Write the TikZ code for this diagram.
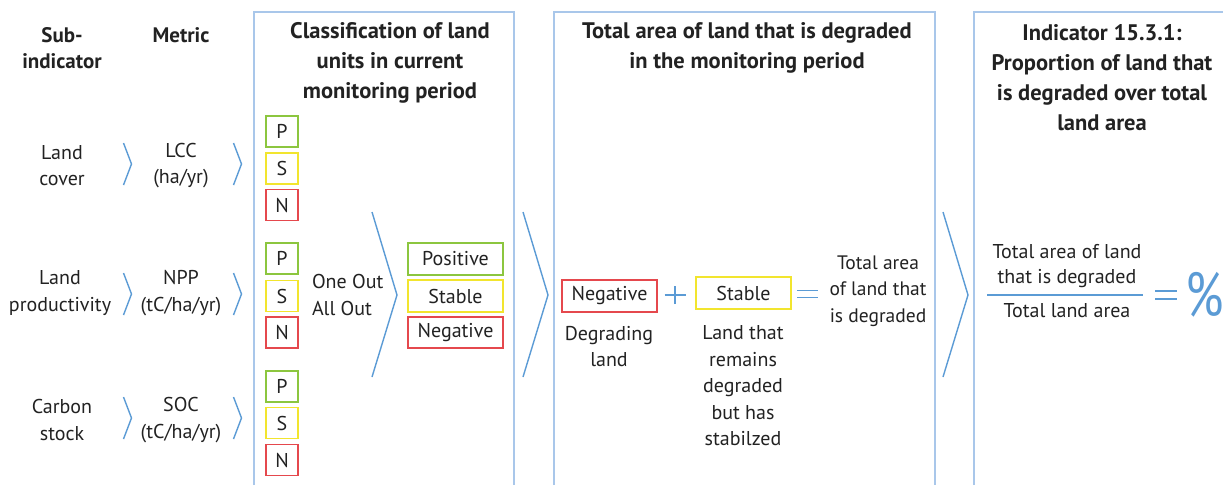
\documentclass[tikz,border=0pt]{standalone}
\usepackage{fontspec}
\setmainfont{PT Sans}
\definecolor{panelc}{HTML}{A9C7EA}
\definecolor{chevc}{HTML}{5B9BD5}
\definecolor{gbox}{HTML}{8CC63F}
\definecolor{ybox}{HTML}{F2E52E}
\definecolor{rbox}{HTML}{E5484D}
\definecolor{txt}{HTML}{222222}
\begin{document}
\begin{tikzpicture}[x=1pt,y=-1pt,
  every node/.style={text=txt,inner sep=0pt,outer sep=0pt},
  body/.style={align=center,font=\fontsize{20}{26.5}\selectfont},
  ttl/.style={align=center,font=\fontsize{22.5}{30}\selectfont\bfseries},
  panel/.style={draw=panelc,line width=1.3pt},
  chev/.style={draw=chevc,line width=1.4pt,line join=miter},
  lbox/.style={draw,line width=1.8pt,minimum width=32pt,minimum height=31pt,font=\fontsize{20}{20}\selectfont},
  wbox/.style={draw,line width=1.8pt,minimum width=95pt,minimum height=31.5pt,font=\fontsize{20}{20}\selectfont},
  bluel/.style={draw=chevc,line width=1.4pt}]
\useasboundingbox (0,0) rectangle (1223,485);
\fill[white] (0,0) rectangle (1223,485);
% panels
\draw[panel] (254,485) -- (254,12) -- (514,12) -- (514,485);
\draw[panel] (554,485) -- (554,12) -- (935,12) -- (935,485);
\draw[panel] (974,485) -- (974,12) -- (1224,12);
% headers
\node[ttl,font=\fontsize{21}{26}\selectfont\bfseries] (hsub) at (62,48) {Sub-\\indicator};
\node[ttl,font=\fontsize{21}{26}\selectfont\bfseries] (hmet) at (181,35) {Metric};
% rows
\node[body] (sub1) at (62,165.5) {Land\\cover};
\node[body] (met1) at (181,165.5) {LCC\\(ha/yr)};
\node[body] (sub2) at (60,293) {Land\\productivity};
\node[body] (met2) at (181,293) {NPP\\(tC/ha/yr)};
\node[body] (sub3) at (62,420) {Carbon\\stock};
\node[body] (met3) at (181,420) {SOC\\(tC/ha/yr)};
% small chevrons
\foreach \yc in {164,294,418}{
  \draw[chev] (123.5,\yc-21) -- (131.5,\yc) -- (123.5,\yc+21);
  \draw[chev] (233.5,\yc-21) -- (241.5,\yc) -- (233.5,\yc+21);
}
% panel 1
\node[ttl] (t1) at (390,63) {Classification of land\\units in current\\monitoring period};
\node[lbox,draw=gbox] (p1) at (282,131.5) {P};
\node[lbox,draw=ybox] (s1) at (282,168.5) {S};
\node[lbox,draw=rbox] (n1) at (282,205) {N};
\node[lbox,draw=gbox] (p2) at (282,258.5) {P};
\node[lbox,draw=ybox] (s2) at (282,296) {S};
\node[lbox,draw=rbox] (n2) at (282,332.5) {N};
\node[lbox,draw=gbox] (p3) at (282,386.5) {P};
\node[lbox,draw=ybox] (s3) at (282,423) {S};
\node[lbox,draw=rbox] (n3) at (282,460) {N};
\node[body,align=left,anchor=west] (oo) at (312,295) {One Out\\All Out};
\draw[chev] (372,212) -- (397,295) -- (372,377);
\node[wbox,draw=gbox] (pos) at (455.5,259) {Positive};
\node[wbox,draw=ybox] (sta) at (455.5,296) {Stable};
\node[wbox,draw=rbox] (neg) at (455.5,332.5) {Negative};
\draw[chev] (523,212) -- (548,295) -- (523,377);
% panel 2
\node[ttl] (t2) at (747,48) {Total area of land that is degraded\\in the monitoring period};
\node[wbox,draw=rbox] (neg2) at (609.5,296) {Negative};
\coordinate (pl) at (675,295);
\draw[bluel] ([xshift=-10.5pt]pl) -- ([xshift=10.5pt]pl);
\draw[bluel] ([yshift=-9pt]pl) -- ([yshift=9pt]pl);
\node[wbox,draw=ybox] (sta2) at (743.5,293) {Stable};
\coordinate (eq1) at (807.5,294);
\draw[bluel] ([xshift=-10.5pt,yshift=-3.5pt]eq1) -- ([xshift=10.5pt,yshift=-3.5pt]eq1);
\draw[bluel] ([xshift=-10.5pt,yshift=3.5pt]eq1) -- ([xshift=10.5pt,yshift=3.5pt]eq1);
\node[body,font=\fontsize{19.5}{26.5}\selectfont] (tot) at (878,291) {Total area\\of land that\\is degraded};
\node[body] (dl) at (609,346.5) {Degrading\\land};
\node[body] (ltr) at (743,386) {Land that\\remains\\degraded\\but has\\stabilzed};
\draw[chev] (943,212) -- (968,295) -- (943,377);
% panel 3
\node[ttl] (t3) at (1102,78) {Indicator 15.3.1:\\Proportion of land that\\is degraded over total\\land area};
\node[body,font=\fontsize{20}{25}\selectfont] (num) at (1067,266) {Total area of land\\that is degraded};
\node[body,font=\fontsize{20}{25}\selectfont] (den) at (1067,311) {Total land area};
\draw[bluel] (987,295) -- (1143,295);
\coordinate (eq2) at (1166,295);
\draw[bluel] ([xshift=-11pt,yshift=-4pt]eq2) -- ([xshift=11pt,yshift=-4pt]eq2);
\draw[bluel] ([xshift=-11pt,yshift=4pt]eq2) -- ([xshift=11pt,yshift=4pt]eq2);
\node[text=chevc,font=\fontsize{62}{64}\selectfont,xscale=0.8] (pct) at (1205,295) {\%};
\end{tikzpicture}
\end{document}
